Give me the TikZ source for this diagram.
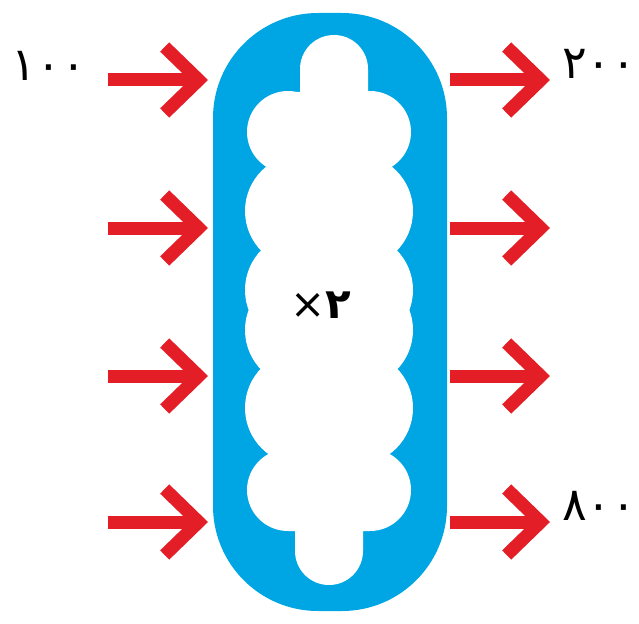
\documentclass[tikz,border=0pt]{standalone}
\usepackage{fontspec}
\newfontfamily\arabicfont[Script=Arabic,BoldFont={DejaVu Sans Bold}]{DejaVu Sans}
\newfontfamily\signfont{DejaVu Sans}
\usetikzlibrary{arrows.meta}
\definecolor{cellblue}{RGB}{0,166,227}
\definecolor{flowred}{RGB}{228,30,38}

\begin{document}
\begin{tikzpicture}[x=1pt,y=-1pt]
\tikzset{flow/.style={draw=flowred,line width=13pt,
  -{Straight Barb[length=34pt,width=66pt,sharp]}},
  cell/.style={fill=cellblue,rounded corners=105pt,minimum width=234pt,
  minimum height=598pt,inner sep=0pt},
  num/.style={font=\arabicfont\fontsize{46}{46}\selectfont,inner sep=0pt}}
\useasboundingbox (0,0) rectangle (639,623);
% ---- cell with cloud-shaped inside ----
\node[cell] (cell) at (330,312) {};
\fill[white] (334,69) circle (34pt) (300,69) rectangle (368,140)
  (329,551) circle (34pt) (295,480) rectangle (363,551)
  (288,132) circle (41pt) (370,132) circle (41pt)
  (288,490) circle (41pt) (370,490) circle (41pt)
  (288,92) rectangle (370,531) (268,132) rectangle (390,490);
\foreach \y in {211,290,330,408}{
  \fill[white] (302,\y) circle (57pt) (356,\y) circle (57pt);
}
\node[num,font=\arabicfont\bfseries\fontsize{42}{42}\selectfont] (factor)
  at (321,305) {{\signfont\mdseries ×}۲};
% ---- arrows in and out ----
\foreach \y [count=\i] in {80,228,376,522}{
  \coordinate (in\i) at (108,\y);
  \coordinate (inhead\i) at (208,\y);
  \coordinate (out\i) at (450,\y);
  \coordinate (outhead\i) at (550,\y);
  \draw[flow] (in\i) -- (inhead\i);
  \draw[flow] (out\i) -- (outhead\i);
}
\node[num,anchor=east] (lbl100) at (86,66) {۱۰۰};
\node[num,anchor=west] (lbl200) at (562,64) {۲۰۰};
\node[num,anchor=west] (lbl800) at (562,506) {۸۰۰};
\end{tikzpicture}
\end{document}
